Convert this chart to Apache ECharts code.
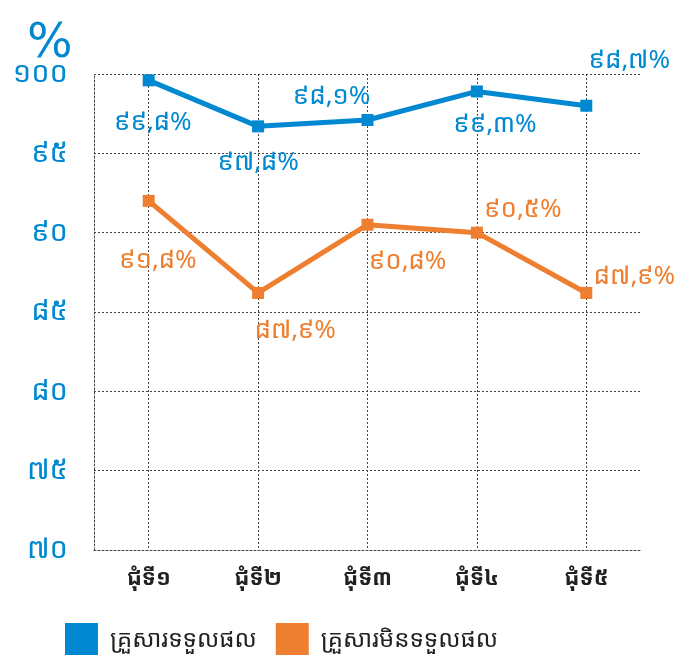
<!DOCTYPE html>
<html>
<head>
    <meta charset="utf-8">
    <title>ECharts</title>
    <script src="https://cdn.jsdelivr.net/npm/echarts@6/dist/echarts.min.js"></script>
    <style>
        body { margin: 0; background: #fff; }
    </style>
</head>
<body>
    <div id="main" style="width: 683px;height:655px;"></div>
    <script type="text/javascript">
      // rounds, y ticks and the two series
      var rounds = ['ជុំទី១', 'ជុំទី២', 'ជុំទី៣', 'ជុំទី៤', 'ជុំទី៥'];
      var yTickLabels = { 70: '៧០', 75: '៧៥', 80: '៨០', 85: '៨៥', 90: '៩០', 95: '៩៥', 100: '១០០' };
      var seriesNames = ['គ្រួសារទទួលផល', 'គ្រួសារមិនទទួលផល'];
      var beneficiary = [99.6, 96.7, 97.1, 98.9, 98.0];
      var beneficiaryText = ['៩៩,៨%', '៩៧,៨%', '៩៨,១%', '៩៩,៣%', '៩៨,៧%'];
      var nonBeneficiary = [92.0, 86.2, 90.5, 90.0, 86.2];
      var nonBeneficiaryText = ['៩១,៨%', '៨៧,៩%', '៩០,៨%', '៩០,៥%', '៨៧,៩%'];

      var blue = '#0088d1';
      var orange = '#ee7f30';
      var khmer = '"Noto Sans Khmer", "Khmer OS", "DejaVu Sans", sans-serif';

      // label offsets [dx, dy] for each point
      var blueOffsets = [[4, 42], [0, 36], [-36, -23], [18, 33], [43, -45]];
      var orangeOffsets = [[9, 60], [37, 38], [40, 37], [46, -23], [48, -16]];

      function makeData(vals, texts, offsets, color) {
        return vals.map(function (v, i) {
          return {
            value: v,
            label: {
              show: true,
              position: 'inside',
              offset: offsets[i],
              formatter: texts[i],
              color: color,
              fontSize: 26,
              fontFamily: khmer
            }
          };
        });
      }

      var myChart = echarts.init(document.getElementById('main'));
      var dotted = { color: '#444', type: [2, 2], width: 1 };
      var option = {
        animation: false,
        title: {
          text: '%',
          left: 22,
          top: 16,
          textStyle: { color: blue, fontSize: 48, fontWeight: 'normal', fontFamily: 'DejaVu Sans' }
        },
        grid: { left: 94, right: 42, top: 74, bottom: 105 },
        legend: {
          left: 60,
          top: 618,
          itemWidth: 33,
          itemHeight: 35,
          itemGap: 19,
          icon: 'rect',
          textStyle: { fontSize: 24, color: '#222', fontFamily: khmer, padding: [0, 0, 0, 7] },
          data: seriesNames
        },
        xAxis: {
          type: 'category',
          data: rounds,
          axisLine: { lineStyle: dotted },
          axisTick: { show: false },
          splitLine: { show: true, alignWithLabel: true, lineStyle: dotted },
          axisLabel: { color: '#222', fontSize: 22, fontWeight: 'bold', margin: 18, fontFamily: khmer }
        },
        yAxis: {
          type: 'value',
          min: 70,
          max: 100,
          interval: 5,
          axisLine: { show: true, lineStyle: dotted },
          axisTick: { show: false },
          splitLine: { show: true, lineStyle: dotted },
          axisLabel: {
            color: blue,
            fontSize: 29,
            margin: 26,
            fontFamily: khmer,
            formatter: function (v) { return yTickLabels[v]; }
          }
        },
        series: [
          {
            name: seriesNames[0],
            type: 'line',
            symbol: 'rect',
            symbolSize: 12,
            color: blue,
            lineStyle: { width: 5, color: blue },
            data: makeData(beneficiary, beneficiaryText, blueOffsets, blue)
          },
          {
            name: seriesNames[1],
            type: 'line',
            symbol: 'rect',
            symbolSize: 12,
            color: orange,
            lineStyle: { width: 5, color: orange },
            data: makeData(nonBeneficiary, nonBeneficiaryText, orangeOffsets, orange)
          }
        ]
      };
      myChart.setOption(option);
    </script>
</body>
</html>
